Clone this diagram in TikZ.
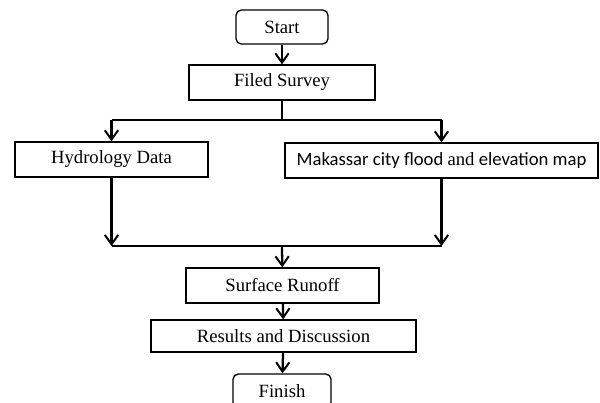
\documentclass[tikz,border=0pt]{standalone}
\usepackage{fontspec}
\setmainfont{Liberation Serif}
\newfontfamily\calibrifont{Carlito}
\usepackage{tikz}
\usetikzlibrary{arrows.meta}

\begin{document}
\begin{tikzpicture}[x=0.75pt, y=-0.75pt,
    every node/.style={font=\fontsize{14}{16}\selectfont},
    box/.style={draw, line width=1pt, inner sep=0pt, fill=white},
    endbox/.style={box, rounded corners=4pt},
    arr/.style={line width=1.7pt, -{Straight Barb[length=7pt, width=10pt, line width=1.5pt]}},
    link/.style={line width=1.7pt}]

    \useasboundingbox (0,0) rectangle (600,403);

    \node[endbox, minimum width=69pt, minimum height=25.5pt] (start) at (282,27) {Start};

    \node[box, minimum width=139.5pt, minimum height=26.25pt] (survey) at (282,82.5) {Filed Survey};

    \node[box, minimum width=144.75pt, minimum height=26.25pt] (hydro) at (111.5,159.5) {Hydrology Data};

    \node[box, minimum width=234.75pt, minimum height=26.25pt] (map) at (441.5,160.5)
        {\calibrifont Makassar city flood {\rmfamily and} elevation map};

    \node[box, minimum width=144.75pt, minimum height=26.25pt] (runoff) at (282.5,285.5) {Surface Runoff};

    \node[box, minimum width=198.75pt, minimum height=24pt] (results) at (283.5,336) {Results and Discussion};

    \node[endbox, minimum width=73.5pt, minimum height=25.5pt] (finish) at (282,391) {Finish};

    \coordinate (split) at (282,120);
    \coordinate (join) at (282,246);

    \draw[arr] (start) -- (survey);

    \draw[link] (survey) -- (split);
    \draw[link] (hydro.north |- split) -- (map.north |- split);
    \draw[arr] (hydro.north |- split) -- (hydro);
    \draw[arr] (map.north |- split) -- (map);

    \draw[arr] (hydro) -- (hydro.south |- join);
    \draw[arr] (map) -- (map.south |- join);
    \draw[link] (hydro.south |- join) -- (map.south |- join);

    \draw[arr] (join) -- (runoff);
    \draw[arr] (runoff) -- (results);
    \draw[arr] (results) -- (finish);

\end{tikzpicture}
\end{document}
